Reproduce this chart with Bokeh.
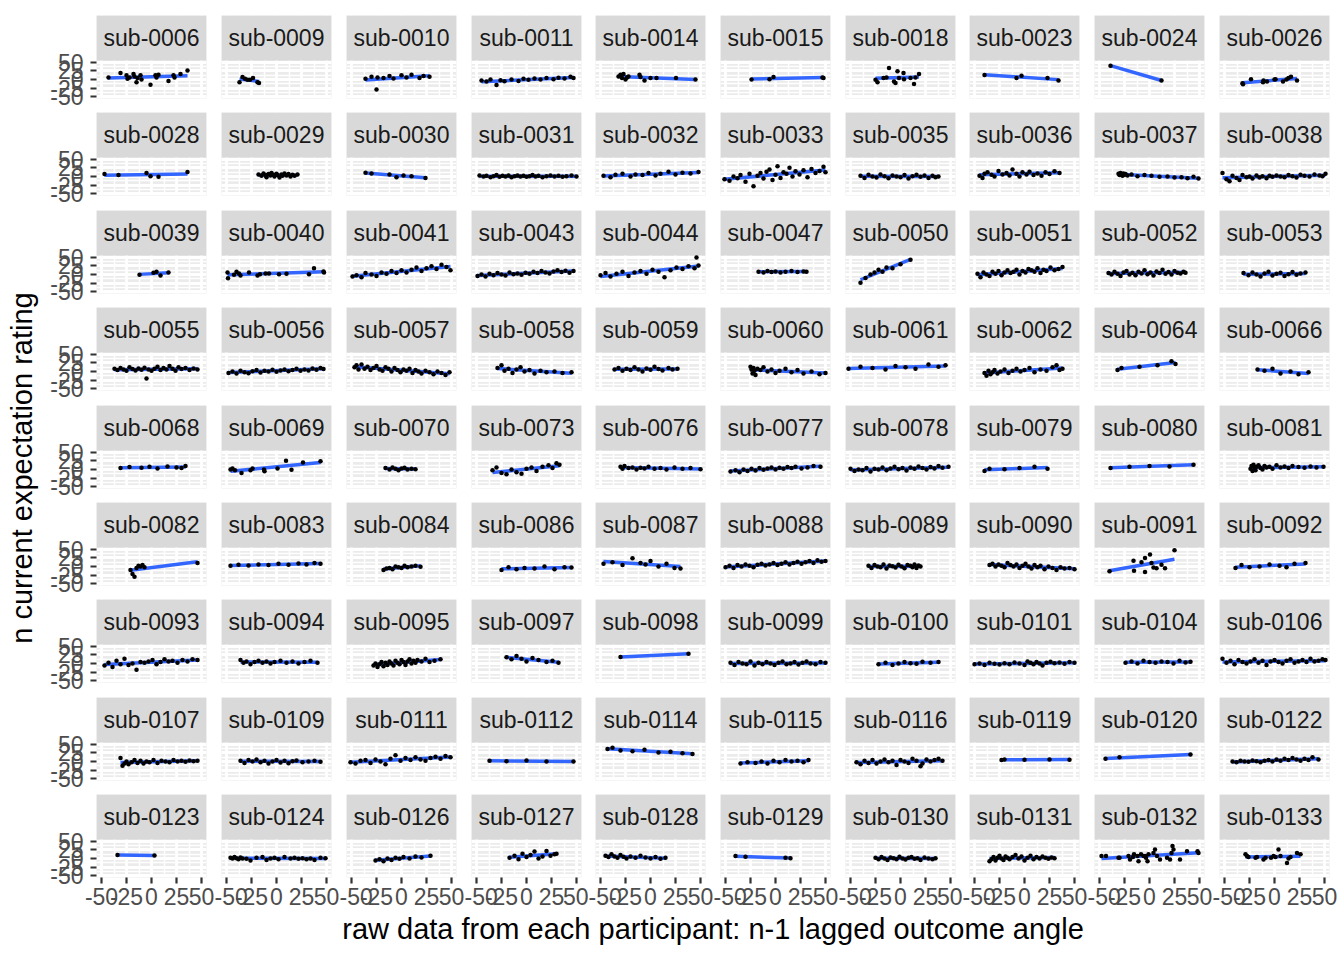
import numpy as np
from bokeh.plotting import figure
from bokeh.layouts import gridplot, row, column
from bokeh.models import Range1d, FixedTicker
from bokeh.embed import file_html
from bokeh.resources import INLINE
from bokeh.core.properties import value

# ---------------- data ----------------
SUBJECTS = [
    "sub-0006", "sub-0009", "sub-0010", "sub-0011", "sub-0014", "sub-0015", "sub-0018", "sub-0023", "sub-0024", "sub-0026",
    "sub-0028", "sub-0029", "sub-0030", "sub-0031", "sub-0032", "sub-0033", "sub-0035", "sub-0036", "sub-0037", "sub-0038",
    "sub-0039", "sub-0040", "sub-0041", "sub-0043", "sub-0044", "sub-0047", "sub-0050", "sub-0051", "sub-0052", "sub-0053",
    "sub-0055", "sub-0056", "sub-0057", "sub-0058", "sub-0059", "sub-0060", "sub-0061", "sub-0062", "sub-0064", "sub-0066",
    "sub-0068", "sub-0069", "sub-0070", "sub-0073", "sub-0076", "sub-0077", "sub-0078", "sub-0079", "sub-0080", "sub-0081",
    "sub-0082", "sub-0083", "sub-0084", "sub-0086", "sub-0087", "sub-0088", "sub-0089", "sub-0090", "sub-0091", "sub-0092",
    "sub-0093", "sub-0094", "sub-0095", "sub-0097", "sub-0098", "sub-0099", "sub-0100", "sub-0101", "sub-0104", "sub-0106",
    "sub-0107", "sub-0109", "sub-0111", "sub-0112", "sub-0114", "sub-0115", "sub-0116", "sub-0119", "sub-0120", "sub-0122",
    "sub-0123", "sub-0124", "sub-0126", "sub-0127", "sub-0128", "sub-0129", "sub-0130", "sub-0131", "sub-0132", "sub-0133",
]

# n-1 lagged outcome angle, one list per subject
X_ANGLE = [
    # row 1
    [-43, -31, -25, -24, -22, -18, -17, -15, -14, -11, -10, -1, 4, 5, 7, 17, 22, 23, 29, 36],
    [-37, -34, -31.5, -29, -26.5, -23.5, -19, -17.5],
    [-36, -30, -25, -24, -18, -12, -8, 0, 5, 10, 18, 22, 28],
    [-45, -40, -36, -30, -26, -22, -15, -8, -3, 2, 8, 14, 20, 27, 32, 38, 44, 47],
    [-32, -30, -28.5, -27, -25, -23.5, -22, -11, -10, -6, 0, 6, 25.5, 45],
    [-24, -6, -2, 47, 48],
    [-25, -23, -17, -14, -11.5, -6.5, -5, -3, -1.5, 3, 3.5, 10, 13.5, 15, 18.5],
    [-40, -8, -3, 23, 34],
    [-39, 12],
    [-32, -31.5, -23.5, -11.5, -11, -7.5, 0, 1, 8.5, 12, 14, 16.5, 22.5],
    # row 2
    [-47, -33, -5, -1, 7, 36],
    [-18, -15, -13, -11, -10, -8, -6, -5, -3, -2, 0, 1, 3, 5, 6, 8, 10, 12, 14, 16, 18, 21],
    [-36, -30, -12, -5, 2, 10, 24],
    [-47, -43, -40, -36, -33, -30, -27, -24, -21, -18, -15, -12, -9, -6, -3, 0, 3, 6, 9, 12, 16, 20, 24, 28, 32, 36, 40, 45, 50],
    [-47, -40, -35, -28, -20, -15, -8, -2, 5, 10, 18, 25, 32, 40, 48],
    [-51, -46, -42, -38, -35, -30, -26, -22, -18, -15, -12, -9, -6, -3, 0, 2, 5, 8, 11, 14, 17, 20, 24, 28, 32, 36, 40, 44, 48, 50],
    [-40, -36, -32, -28, -24, -20, -16, -12, -8, -4, 0, 4, 8, 12, 16, 20, 24, 28, 32, 35, 38],
    [-45, -42, -40, -37, -33, -30, -26, -22, -18, -15, -12, -8, -5, -2, 2, 5, 9, 13, 17, 21, 25, 30, 35],
    [-31, -30, -29, -28, -27, -26, -25, -24, -22, -18, -12, -5, 2, 10, 18, 25, 32, 38, 44, 49],
    [-52, -48, -45, -42, -38, -35, -32, -28, -25, -22, -18, -15, -12, -8, -5, -2, 2, 6, 10, 14, 18, 22, 26, 30, 35, 40, 45, 48, 51],
    # row 3
    [-12, 2, 5, 9, 17],
    [-49, -48.5, -42.5, -40, -37.5, -36, -27.5, -19, -16.5, -11, -7.5, 2.5, 10, 32.5, 37.5, 47, 47.5],
    [-49, -45, -40, -36, -30, -25, -20, -15, -10, -5, 0, 5, 10, 15, 20, 25, 30, 35, 40, 45, 49],
    [-49, -45, -41, -37, -33, -29, -25, -21, -17, -13, -9, -5, -1, 3, 7, 11, 15, 19, 23, 27, 31, 35, 39, 43, 47],
    [-50, -45, -40, -34, -28, -22, -16, -10, -4, 2, 8, 14, 20, 26, 32, 38, 44, 46, 48],
    [-17, -12, -8, -4, 0, 5, 10, 16, 22, 28, 31],
    [-40, -35, -30, -26, -22, -18, -14, -8, 0, 10],
    [-47, -44, -41, -38, -35, -32, -29, -26, -23, -20, -17, -14, -11, -8, -5, -2, 1, 4, 7, 10, 13, 16, 19, 22, 26, 30, 34, 38],
    [-41, -38, -35, -32, -29, -26, -23, -20, -17, -14, -11, -8, -5, -2, 1, 4, 7, 10, 13, 16, 19, 22, 25, 28, 31, 34, 36],
    [-31, -26, -22, -18, -14, -10, -6, -2, 2, 6, 10, 14, 18, 22, 26, 31],
    # row 4
    [-37, -34, -31, -28, -25, -22, -19, -16, -13, -10, -7, -5, -3, 0, 3, 6, 9, 12, 15, 18, 21, 24, 27, 30, 34, 38, 42, 46],
    [-48, -44, -40, -36, -32, -28, -24, -20, -16, -12, -8, -4, 0, 4, 8, 12, 16, 20, 24, 28, 32, 36, 40, 44, 47],
    [-47, -45, -43, -40, -37, -34, -31, -28, -25, -22, -19, -16, -13, -10, -7, -4, -1, 2, 5, 8, 11, 14, 17, 20, 24, 28, 32, 36, 40, 44, 48],
    [-29, -25, -22, -18, -14, -10, -6, -2, 3, 8, 14, 20, 28, 36, 45],
    [-36, -32, -28, -24, -20, -16, -12, -8, -4, 0, 4, 8, 12, 18, 22, 27],
    [-25, -24, -23, -22, -21, -20, -18, -15, -12, -8, -4, 0, 4, 10, 16, 22, 28, 36, 44, 50],
    [-52, -40, -28, -15, -5, 5, 15, 28, 38, 45],
    [-40, -38, -36, -34, -32, -30, -27, -24, -20, -16, -12, -8, -4, 0, 5, 10, 16, 22, 28, 32, 35, 38],
    [-32, -28, -10, 8, 22, 26],
    [-17, -10, -2, 6, 16, 24, 34],
    # row 5
    [-31, -22, -10, -2, 6, 16, 25, 30, 34],
    [-44, -46, -41.5, -35, -26, -24, -12.5, -12, 1, 9.5, 15, 26.5, 44],
    [-16, -12, -9, -6, -3, 0, 3, 6, 10, 14],
    [-34, -30, -25, -20, -15, -10, -5, 0, 5, 10, 16, 22, 26, 30, 33],
    [-30, -28, -26, -22, -18, -14, -10, -6, -2, 4, 10, 16, 24, 32, 40, 50],
    [-45, -40, -36, -32, -28, -24, -20, -16, -12, -8, -4, 0, 4, 8, 12, 16, 20, 26, 32, 38, 45],
    [-50, -46, -42, -38, -34, -30, -26, -22, -18, -14, -10, -6, -2, 2, 6, 10, 14, 18, 22, 26, 30, 34, 38, 42, 48],
    [-40, -35, -20, -5, 10, 23],
    [-39, -20, 0, 20, 44],
    [-24, -23, -22, -21, -20, -19, -18, -16, -14, -12, -10, -8, -5, -2, 2, 6, 10, 14, 18, 24, 30, 36, 42, 49],
    # row 6
    [-21, -19, -17, -15, -13, -11, -9, -7, 46],
    [-46, -38, -28, -18, -8, 2, 12, 22, 30, 38, 44],
    [-18, -15, -12, -9, -6, -3, 0, 3, 6, 10, 14, 19],
    [-25, -18, -10, -2, 8, 18, 28, 38, 45],
    [-47, -38, -28, -18, -10, -5, 0, 8, 16, 24, 30],
    [-50, -46, -42, -38, -34, -30, -26, -22, -18, -14, -10, -6, -2, 2, 6, 10, 14, 18, 22, 26, 30, 34, 38, 42, 46, 50],
    [-32, -29, -26, -23, -20, -17, -14, -11, -8, -5, -2, 1, 4, 7, 10, 12, 14, 16, 18, 20],
    [-35, -32, -29, -26, -23, -20, -17, -14, -11, -8, -5, -2, 1, 4, 7, 10, 13, 16, 20, 24, 28, 32, 36, 40, 45, 50],
    [-40, -16, -15.5, -8, -4.5, -4.5, 0.5, 2, 4, 7, 12, 15.5, 25],
    [-39, -33, -25, -15, -5, 5, 12, 20, 31],
    # row 7
    [-47, -43, -39, -35, -31, -27, -23, -19, -15, -11, -7, -3, 1, 5, 9, 13, 17, 21, 26, 31, 36, 41, 46],
    [-36, -33, -30, -26, -22, -18, -14, -10, -6, -2, 4, 10, 16, 22, 28, 34, 41],
    [-28, -26, -24, -22, -20, -18, -16, -14, -12, -10, -8, -6, -4, -2, 0, 2, 4, 6, 8, 10, 12, 14, 16, 20, 24, 28, 33, 39],
    [-20, -15, -10, -5, 0, 6, 12, 20, 26, 32],
    [-30, 38],
    [-45, -41, -37, -33, -29, -25, -21, -17, -13, -9, -5, -1, 3, 7, 11, 15, 19, 23, 27, 31, 35, 40, 45, 50],
    [-22, -15, -8, -2, 4, 10, 16, 22, 30, 38],
    [-50, -45, -40, -35, -30, -25, -20, -15, -10, -5, 0, 3, 6, 9, 12, 15, 18, 22, 26, 30, 35, 40, 45, 50],
    [-24, -18, -12, -6, 0, 6, 12, 18, 24, 30, 36, 41],
    [-52, -48, -44, -40, -36, -32, -28, -24, -20, -16, -12, -8, -4, 0, 4, 8, 12, 16, 20, 24, 28, 32, 36, 40, 44, 48, 51],
    # row 8
    [-31, -29, -27, -25, -23, -20, -17, -14, -11, -8, -5, -2, 2, 6, 10, 14, 18, 22, 26, 30, 34, 38, 42, 46],
    [-36, -32, -28, -24, -20, -16, -12, -8, -4, 0, 4, 8, 12, 16, 20, 26, 32, 38, 44],
    [-51, -46, -41, -36, -31, -26, -21, -16, -11, -6, -1, 4, 9, 14, 19, 24, 29, 34, 39, 44, 49],
    [-37, -20, 0, 20, 47],
    [-43, -38, -30, -18, -6, 8, 20, 32, 42],
    [-35, -28, -20, -14, -8, -2, 4, 10, 16, 22, 28, 33],
    [-44, -40, -36, -32, -28, -24, -20, -16, -12, -8, -4, 0, 4, 8, 12, 16, 20, 22, 26, 30, 34, 38, 42],
    [-23, -20, 0, 25, 45],
    [-44, -30, 41],
    [-42, -38, -34, -30, -26, -22, -18, -14, -10, -6, -2, 2, 6, 10, 14, 18, 22, 26, 30, 34, 38, 44],
    # row 9
    [-34, 3],
    [-46, -44, -42, -40, -38, -36, -34, -30, -26, -20, -14, -10, -6, -2, 2, 8, 14, 18, 22, 26, 30, 34, 38, 44, 49],
    [-26, -22, -18, -14, -10, -6, -2, 2, 8, 14, 20, 29],
    [-17, -12, -8, -4, 0, 4, 8, 12, 16, 20, 24, 28, 30],
    [-45, -42, -39, -36, -33, -30, -27, -24, -20, -15, -10, -5, 0, 5, 10, 15],
    [-40, -30, 10, 15],
    [-25, -22, -19, -16, -13, -10, -7, -4, -1, 2, 5, 8, 11, 14, 17, 20, 24, 28, 32, 35],
    [-35, -33, -31, -29, -27, -25, -23, -21, -19, -17, -15, -12, -9, -6, -3, 0, 3, 6, 9, 12, 15, 18, 21, 24, 27, 30],
    [-48, -43.5, -31, -30, -21, -19.5, -16.5, -15.5, -12, -11, -8.5, -6, -4.5, -3.5, -2, -1, 4, 5.5, 7.5, 10.5, 17.5, 20.5, 22, 23, 24, 30.5, 37.5, 48, 49],
    [-29, -27.5, -26, -19, -17.5, -11, -9, -3.5, -1, 1, 4, 6, 12.5, 14, 16, 22.5, 26],
]

# n current expectation rating, one list per subject
Y_RATING = [
    # row 1
    [6, 19, 12, 2, 6, 16, 9, -8, 4, 12, 0, -15, 12, 6, 14, -4, 12, 6, 16, 26],
    [-8, 7, 2, -1, -1, 4, -8, -10],
    [2, 8, -29, 6, 4, 10, 3, 12, 6, 14, 4, 10, 8],
    [-3, -6, 0, -16, -2, -5, 0, -4, 2, -1, 3, 0, 4, 1, 5, 3, 8, 4],
    [9, 14, 4, 16, 0, 6, 9, 14, 7, -3, 4, 4, 4, 0],
    [0, 1, 7, 6, 4],
    [-1, -8, 4, 6, 33, -6, -10, 24, 4, 19, 1, 4, -13, 6, 16],
    [13, 4, 11, 4, -3],
    [40, -3],
    [-10.5, -14, 1, -8, -3, -6, 0, 1, -6, 0, 4, 8, -3],
    # row 2
    [7, 4, 10, 1, -1, 13],
    [6, 2, 9, 4, -2, 7, 3, 10, 5, 0, 8, 4, -3, 6, 2, 9, 3, 7, 0, 5, 2, 6],
    [11, 9, 6, -2, 3, 1, -4],
    [3, 0, 2, -2, 1, 4, -1, 2, 0, 3, -2, 1, 3, 0, 2, -1, 1, 4, 0, 2, -2, 1, 3, 0, 2, -1, 1, 3, 0],
    [2, -2, 5, 8, 0, 6, 4, 10, 3, 8, 14, 6, 11, 9, 13],
    [-8, -12, 0, -5, 4, -15, 8, -28, 2, 10, -6, 14, 20, -10, 5, 30, -4, 12, 8, 25, 0, 15, 6, 18, -2, 22, 10, 16, 28, 12],
    [2, -4, 5, 0, -3, 6, 1, -5, 3, 0, -2, 4, -6, 1, 5, -1, 3, -4, 2, -2, 0],
    [2, -4, 8, 12, 5, 0, 16, 6, 10, 3, 20, 8, 0, 12, 6, 14, 4, 9, 2, 12, 7, 15, 10],
    [8, 4, 10, 6, 2, 9, 5, 7, 3, 6, 1, 4, 2, -1, 0, -3, -2, -5, -1, -6],
    [10, -8, -14, 2, -4, -10, 4, -2, 0, -6, 3, -3, 1, -5, 2, -1, 3, 0, -2, 4, 1, -3, 5, 2, 0, 6, 3, 1, 8],
    # row 3
    [-1, 5, 8, -3, 6],
    [5.5, -11, -1, 8, 3, -3, 6, -3, 0.5, 3, 3, 0.5, 2, 0.5, 18, 8.5, 5.5],
    [-6, -2, -8, 4, 0, -4, 6, 2, 10, 4, 12, 6, 14, 20, 10, 18, 24, 16, 28, 22, 12],
    [-4, 0, -6, 2, -2, 4, 0, -3, 6, 1, 3, -1, 5, 2, 8, 4, 10, 6, 3, 9, 12, 7, 11, 5, 10],
    [-2, 4, -6, 2, 8, -4, 6, 10, 2, 14, 8, -8, 12, 20, 16, 24, 18, 49, 26],
    [8, 6, 10, 7, 9, 6, 8, 10, 7, 9, 8],
    [-24, -10, 0, 6, 14, 8, 20, 18, 30, 43],
    [2, -8, 6, 0, -4, 8, 2, 10, -2, 6, 12, 4, 8, 14, 0, 10, 6, 16, 12, 8, 18, 4, 14, 10, 20, 12, 16, 22],
    [4, 0, 8, 2, -4, 6, 10, 0, 5, -2, 8, 3, 12, 1, 6, -3, 9, 4, 14, 2, 7, 0, 10, 5, 3, 8, 5],
    [4, -2, 6, 0, -6, 3, 8, -3, 2, 5, -4, 1, 7, -1, 3, 6],
    # row 4
    [8, 4, 10, 6, 2, 12, 7, 3, 9, 5, 11, -20, 6, 2, 8, 14, 4, 10, 6, 16, 8, 2, 12, 7, 10, 4, 9, 6],
    [-4, 0, -6, 2, -2, -5, 1, 4, -3, 2, 0, 5, -1, 3, 6, 1, 4, 8, 2, 6, 3, 9, 5, 10, 7],
    [12, 18, 6, 20, 8, 14, 4, 10, 16, 6, 2, 12, 8, 0, 10, 4, -2, 6, 2, 8, -4, 4, 0, -6, 2, -2, -8, 0, -4, -10, -2],
    [10, 18, 2, 8, -4, 6, 12, 0, 4, -6, 2, -2, 0, -4, -2],
    [6, 10, 2, 8, 4, 12, 6, 0, 9, 5, 14, 7, 3, 10, 6, 8],
    [14, 6, -6, 10, 2, -10, 8, 4, 12, 0, 6, -4, 2, 8, -2, 4, -6, 0, -8, -4],
    [8, 14, 10, 6, 16, 12, 8, 20, 14, 18],
    [-4, -12, 2, -8, -2, 4, -6, 0, 6, -4, 2, 8, 0, 4, 10, -2, 6, 2, 12, 18, 4, 8],
    [4, 10, 14, 18, 30, 22],
    [6, 2, 8, -6, 0, -8, -2],
    # row 5
    [4, 7, 5, 8, 3, 9, 6, 4, 10],
    [3, 0, -2, -10, -2, 3, 0, -5, 3, 25, -1, 20, 24],
    [4, 0, 6, 2, -2, 3, 5, 0, 2, 1],
    [-2, 6, -10, -14, 0, -8, -12, 2, 6, -4, 8, 12, 4, 18, 14],
    [8, 2, 10, 4, 6, 0, 5, 3, 8, 2, 4, 0, 6, 2, 4, 1],
    [-6, -2, -8, 0, -4, 2, -3, 4, -1, 3, 6, 0, 5, 2, 7, 4, 8, 3, 6, 10, 8],
    [2, -4, 0, -2, 4, -6, 2, 0, 6, -2, 3, 8, 1, 4, -3, 6, 2, 9, 4, 0, 7, 3, 10, 5, 8],
    [-4, 2, 1, 4, 8, 2],
    [4, 8, 10, 9, 14],
    [2, 10, -4, 14, 6, -2, 8, 12, 4, 0, 10, 6, 8, 2, 12, 6, 9, 4, 10, 7, 5, 9, 6, 8],
    # row 6
    [-10, -22, -30, -4, 2, 0, 4, -2, 10],
    [2, 5, 3, 6, 4, 8, 5, 9, 6, 10, 8],
    [-10, -6, -4, -8, 0, -2, -4, 2, -2, 0, 2, -1],
    [-10, -2, -8, -4, -6, 0, -8, -2, -3],
    [8, 12, 4, 24, 10, 6, 16, 0, 8, -4, -6],
    [-2, 2, -4, 4, 0, 6, 2, -2, 5, 8, 3, 6, 10, 4, 8, 12, 6, 10, 14, 8, 12, 16, 10, 18, 14, 16],
    [2, -4, 4, 0, -2, 6, -6, 3, 1, -3, 5, 0, -5, 4, 2, -2, 6, -4, 3, 0],
    [4, 8, 0, 6, 2, -2, 10, 4, 0, 6, -4, 2, 8, 0, -6, 4, -2, 2, -8, 0, -4, -10, -2, -6, -4, -8],
    [-14, 17, -12, 12, 24.5, -16, 34.5, 10, -3, -5, 5, -5, 47],
    [-4, 4, -2, 0, 6, 2, -2, 8, 10],
    # row 7
    [-6, 2, -10, 8, -2, 14, -4, 0, -18, 4, 2, 6, 10, -2, 4, 12, 6, 8, 2, 10, 6, 12, 10],
    [10, 2, 6, -2, 4, 8, 2, 6, 0, 4, 8, 2, 6, 0, 4, 8, 2],
    [-6, 0, -10, -2, 4, -8, 2, -4, 6, 0, -6, 8, 2, -2, 10, 4, -4, 6, 12, 0, 8, 2, 10, 6, 14, 4, 8, 12],
    [18, 12, 22, 14, 6, 16, 10, 4, 8, 2],
    [19, 28],
    [2, -4, 4, 0, -2, 6, -6, 2, -2, 4, 0, -4, 2, 6, -2, 0, 4, -3, 2, 6, 0, -2, 4, 2],
    [-2, 2, -4, 0, 4, 1, -1, 5, 2, 4],
    [-2, 0, -4, 2, -1, -3, 1, -2, 3, 0, -4, 6, 2, -2, 4, 0, -6, 2, 5, 1, 3, -1, 4, 2],
    [2, 6, 0, 8, 4, 2, 6, 4, 0, 8, 3, 5],
    [14, 2, 8, -2, 10, 4, 0, 6, 12, 2, 8, -4, 6, 10, 4, 0, 8, 12, 2, 6, 10, 4, 14, 6, 8, 12, 10],
    # row 8
    [10, -12, -6, 0, -8, -2, 4, -4, 2, -6, 0, -2, 4, -4, 2, 0, -2, 4, 0, 2, -1, 3, 1, 2],
    [2, -4, 4, 0, 6, -2, 2, -6, 0, 4, -3, 2, -5, 1, 3, -2, 0, 2, -1],
    [-2, -6, 2, 4, -4, 6, 0, -8, 8, 18, 2, 10, 4, 12, 6, 2, 10, 14, 8, 16, 12],
    [2, 1, 3, 0, 0],
    [36, 40, 32, 30, 34, 26, 28, 24, 22],
    [-6, -2, -4, 0, -6, 2, -2, 4, 0, 2, -2, 4],
    [-2, -8, 2, -4, 4, -6, 0, 6, -2, 2, -10, 4, 0, -4, 8, 2, -14, -6, 6, 0, 4, 8, 2],
    [4, 6, 5, 6, 5],
    [8, 12, 20],
    [0, -2, 2, 0, -1, 3, 1, -2, 2, 4, 0, 6, 2, 8, 4, 10, 6, 2, 8, 4, 12, 6],
    # row 9
    [10, 9],
    [2, 0, 4, 1, -2, 3, 0, -1, -6, 2, 4, -4, 0, 2, -2, 4, 0, 2, -1, 1, -2, 0, -4, 2, 1],
    [-6, -2, -8, 0, -4, 2, -1, 4, 0, 6, 3, 8],
    [2, 8, -2, 14, 4, 10, 20, 0, 6, 22, 8, 12, 14],
    [8, 4, 12, 6, 2, 10, 5, 0, 6, 2, 8, 3, 0, 4, -1, 2],
    [7, 5, 2, 1],
    [2, -2, 4, 0, -4, 3, 1, -2, 5, 0, -3, 2, 4, -1, 1, -4, 3, 0, -2, 1],
    [-8, -2, 4, -6, 2, 8, 0, -4, 6, 2, -2, 4, 10, 0, 6, -6, 2, 8, -2, 4, 0, 6, 2, -1, 3, 1],
    [7, 7, 2, 2, 7, -3, 4, 12, 7, -8, 12, 7, 7, 2, -8, 12, 16, 26, 7, -3, 2, -3, 16, 36, 26, -3, 21, 21, 16],
    [12, 7, 4, 2, 4, -3, 2, 2, 7, 4, 26, 7, -13, 0, 4, 16, 12],
]

X_TICKS = [-50, -25, 0, 25, 50]
X_TICK_LABELS = ["-50", "-25", "0", "25", "50"]
X_MINOR = [-37.5, -12.5, 12.5, 37.5]
Y_TICKS = [-50, -25, 0, 25, 50]
Y_TICK_LABELS = ["-50", "-25", "0", "25", "50"]
Y_MINOR = [-37.5, -12.5, 12.5, 37.5]
X_LIMITS = (-55, 55)
Y_LIMITS = (-55, 55)
X_TITLE = "raw data from each participant: n-1 lagged outcome angle"
Y_TITLE = "n current expectation rating"

# ---------------- layout / style ----------------
NCOL, NROW = 10, 9
FRAME_W = 110
PANEL_H = 38
STRIP_H = 45
FRAME_H = PANEL_H + STRIP_H
BASELINE_FIX_EM = 0.39            # renderer puts "alphabetic" text lower than the anchor
SMALL_PX = 23
BIG_PX = 29
STRIP_BASELINE_PX = 13.3 + BASELINE_FIX_EM * SMALL_PX   # anchor above strip bottom
LEFT_BORDER = [56] + [7] * 9
RIGHT_BORDER = [8, 8, 8, 7, 8, 8, 7, 8, 8, 8]
TOP_BORDER = [15] + [2] * 8
BOTTOM_BORDER = [12, 13, 12, 13, 12, 12, 13, 12, 36]
YLAB_W = 40
PAGE_H = 960

FONT = "Liberation Sans"
PANEL_BG = "#EBEBEB"
STRIP_BG = "#D9D9D9"
STRIP_TXT = "#1A1A1A"
TICK_TXT = "#4D4D4D"
TICK_COL = "#333333"
LINE_COL = "#3366FF"
SMALL = f"{SMALL_PX}px"
BIG = f"{BIG_PX}px"

y_span = Y_LIMITS[1] - Y_LIMITS[0]
y_top = Y_LIMITS[1] + y_span * STRIP_H / PANEL_H
strip_text_y = Y_LIMITS[1] + y_span * STRIP_BASELINE_PX / PANEL_H


def style_axis(ax, ticks, labels, standoff):
    ax.ticker = FixedTicker(ticks=ticks)
    ax.major_label_overrides = {float(t): s for t, s in zip(ticks, labels)}
    ax.axis_line_color = None
    ax.major_tick_line_color = TICK_COL
    ax.major_tick_line_width = 2.2
    ax.major_tick_out = 6
    ax.major_tick_in = 0
    ax.minor_tick_line_color = None
    ax.major_label_text_font = FONT
    ax.major_label_text_font_size = SMALL
    ax.major_label_text_color = TICK_TXT
    ax.major_label_standoff = standoff


figs = []
for i, subj in enumerate(SUBJECTS):
    r, c = divmod(i, NCOL)
    p = figure(
        frame_width=FRAME_W, frame_height=FRAME_H,
        x_range=Range1d(*X_LIMITS), y_range=Range1d(Y_LIMITS[0], y_top),
        x_axis_location="below" if r == NROW - 1 else None,
        y_axis_location="left" if c == 0 else None,
        toolbar_location=None, output_backend="svg", title=None,
        min_border_left=LEFT_BORDER[c], min_border_right=RIGHT_BORDER[c],
        min_border_top=TOP_BORDER[r], min_border_bottom=BOTTOM_BORDER[r],
        background_fill_color=PANEL_BG, border_fill_color="white",
        outline_line_color=None,
    )
    p.xgrid.ticker = FixedTicker(ticks=X_TICKS, minor_ticks=X_MINOR)
    p.ygrid.ticker = FixedTicker(ticks=Y_TICKS, minor_ticks=Y_MINOR)
    for g in (p.xgrid, p.ygrid):
        g.grid_line_color = "white"
        g.grid_line_width = 2.8
        g.minor_grid_line_color = "white"
        g.minor_grid_line_width = 1.4
    if r == NROW - 1:
        style_axis(p.xaxis, X_TICKS, X_TICK_LABELS, 4)
    if c == 0:
        style_axis(p.yaxis, Y_TICKS, Y_TICK_LABELS, 7)

    # strip
    p.quad(left=X_LIMITS[0], right=X_LIMITS[1], bottom=Y_LIMITS[1], top=y_top,
           fill_color=STRIP_BG, line_color=None)
    p.text(x=[0], y=[strip_text_y], text=[subj], text_align="center",
           text_baseline="alphabetic", text_font=value(FONT),
           text_font_size=SMALL, text_color=STRIP_TXT)

    xs = np.asarray(X_ANGLE[i], dtype=float)
    ys = np.asarray(Y_RATING[i], dtype=float)
    n = min(len(xs), len(ys))
    xs, ys = xs[:n], ys[:n]
    slope, intercept = np.polyfit(xs, ys, 1)
    xl = np.array([xs.min(), xs.max()])
    p.line(xl, slope * xl + intercept, line_color=LINE_COL, line_width=3.5)
    p.scatter(xs, ys, size=4.5, fill_color="black", line_color=None)
    figs.append(p)

grid = gridplot(figs, ncols=NCOL, toolbar_location=None)

GRID_W = sum(LEFT_BORDER) + sum(RIGHT_BORDER) + NCOL * FRAME_W
GRID_H = sum(TOP_BORDER) + sum(BOTTOM_BORDER) + NROW * FRAME_H
XLAB_H = PAGE_H - GRID_H

ylab = figure(width=YLAB_W, height=PAGE_H, x_range=Range1d(0, YLAB_W),
              y_range=Range1d(0, PAGE_H), x_axis_location=None, y_axis_location=None,
              toolbar_location=None, output_backend="svg", title=None, min_border=0,
              outline_line_color=None, border_fill_color="white", background_fill_color="white")
ylab.grid.visible = False
ylab.text(x=[33.3 - BASELINE_FIX_EM * BIG_PX], y=[PAGE_H - 467.5], text=[Y_TITLE], angle=np.pi / 2,
          text_align="center", text_baseline="alphabetic", text_font=value(FONT),
          text_font_size=BIG, text_color="black")

xlab = figure(width=GRID_W, height=XLAB_H, x_range=Range1d(0, GRID_W),
              y_range=Range1d(0, XLAB_H), x_axis_location=None, y_axis_location=None,
              toolbar_location=None, output_backend="svg", title=None, min_border=0,
              outline_line_color=None, border_fill_color="white", background_fill_color="white")
xlab.grid.visible = False
xlab.text(x=[712.5 - YLAB_W], y=[PAGE_H - 940 + BASELINE_FIX_EM * BIG_PX], text=[X_TITLE],
          text_align="center", text_baseline="alphabetic", text_font=value(FONT),
          text_font_size=BIG, text_color="black")

layout = row(ylab, column(grid, xlab))
open("out.html", "w").write(file_html(layout, INLINE, title="facets"))
